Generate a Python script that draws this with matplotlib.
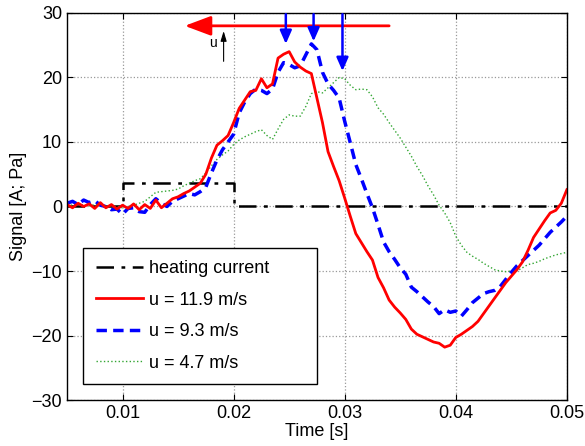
import numpy as np
import matplotlib
matplotlib.use('Agg')
import matplotlib.pyplot as plt

plt.rcParams['font.family'] = ['Liberation Sans', 'DejaVu Sans']

# time grid of the read-off samples [s]
t = np.round(np.linspace(0.005, 0.05, 91), 5)

# u = 11.9 m/s
sig_119 = [0.3, -0.2, 0.5, 0.0, 0.4, -0.3, 0.6, -0.2, 0.3, -0.4,
           0.2, -0.3, 0.4, -0.5, 0.3, -0.3, 1.0, -0.2, 0.5, 1.2,
           1.5, 2.0, 2.4, 3.0, 3.6, 5.0, 7.5, 9.5, 10.2, 11.0,
           13.0, 15.2, 16.5, 17.8, 18.0, 19.8, 18.4, 19.0, 23.0, 23.6,
           24.0, 22.4, 21.6, 21.0, 20.6, 16.8, 13.0, 8.5, 6.2, 4.0,
           1.3, -1.5, -4.2, -5.6, -7.0, -8.3, -11.0, -12.6, -14.5, -15.6,
           -16.5, -17.5, -19.0, -19.8, -20.2, -20.6, -21.0, -21.2, -21.8, -21.5,
           -20.3, -19.8, -19.2, -18.6, -17.8, -16.6, -15.4, -14.2, -13.0, -11.8,
           -10.8, -9.8, -8.6, -6.8, -4.8, -3.5, -2.2, -1.0, -0.6, 0.5,
           2.6]

# u = 9.3 m/s
sig_93 = [0.5, 0.8, 0.3, 1.0, 0.6, 0.9, 0.2, 0.0, -0.5, -0.4,
          -1.2, -0.3, -0.2, -0.8, -0.9, 0.3, 1.2, 0.5, 0.0, 0.8,
          1.2, 1.6, 2.0, 1.8, 2.3, 3.0, 5.2, 7.2, 8.8, 10.0,
          11.2, 14.5, 16.2, 17.5, 18.2, 18.0, 17.5, 18.2, 20.8, 22.3,
          22.0, 21.5, 21.8, 23.5, 25.2, 24.3, 20.8, 19.0, 18.0, 16.8,
          13.2, 9.9, 6.5, 4.3, 2.0, -0.2, -2.8, -5.5, -7.0, -8.2,
          -9.5, -10.5, -12.5, -13.2, -14.0, -14.8, -15.5, -16.6, -16.0, -16.4,
          -16.2, -17.0, -16.0, -14.9, -14.2, -13.5, -13.2, -13.0, -12.4, -11.3,
          -10.2, -9.2, -8.4, -7.6, -6.8, -6.0, -5.0, -4.0, -3.2, -2.4,
          -1.5]

# u = 4.7 m/s
sig_47 = [0.3, 0.2, 0.4, 0.2, 0.1, 0.3, 0.2, 0.0, 0.1, 0.0,
          -0.2, 0.0, 0.2, 0.5, 0.8, 1.5, 2.2, 2.3, 2.4, 2.5,
          2.7, 3.2, 3.6, 4.0, 4.3, 5.2, 6.3, 7.3, 8.0, 8.6,
          9.6, 10.3, 10.8, 11.2, 11.6, 11.9, 11.0, 10.4, 12.0, 13.5,
          14.2, 14.0, 14.0, 15.5, 17.5, 17.8, 17.6, 18.4, 19.2, 20.0,
          19.8, 18.8, 18.1, 18.2, 18.1, 17.0, 15.3, 14.3, 13.0, 11.8,
          10.6, 9.2, 7.8, 6.2, 4.8, 3.2, 1.8, 0.2, -1.0, -2.5,
          -4.6, -6.0, -7.1, -7.7, -8.2, -8.8, -9.3, -9.8, -10.0, -10.1,
          -10.0, -10.0, -9.5, -9.0, -8.8, -8.5, -8.1, -7.8, -7.5, -7.3,
          -7.1]

# heating current pulse
heat_t = [0.005, 0.01, 0.01, 0.02, 0.02, 0.05]
heat_v = [0, 0, 3.7, 3.7, 0, 0]

# peak markers (blue arrows)
peak_t = [0.0247, 0.0272, 0.0298]
peak_v = [25.2, 25.6, 21.0]

fig = plt.figure(figsize=(5.85, 4.46), dpi=100)
ax = fig.add_axes([0.1145, 0.103, 0.8545, 0.868])

ax.plot(heat_t, heat_v, color='black', lw=1.8, dashes=[7, 3, 1.5, 3],
        label='heating current')
ax.plot(t, sig_47, color=(0.2, 0.65, 0.2), lw=1.0, linestyle=':',
        label='u = 4.7 m/s')
ax.plot(t, sig_93, color='blue', lw=2.5, dashes=[3, 1.8],
        label='u = 9.3 m/s')
ax.plot(t, sig_119, color='red', lw=2.0, label='u = 11.9 m/s')

ax.set_xlim(0.005, 0.05)
ax.set_ylim(-30, 30)
ax.set_xticks([0.01, 0.02, 0.03, 0.04, 0.05])
ax.set_xticklabels(['0.01', '0.02', '0.03', '0.04', '0.05'])
ax.set_yticks([-30, -20, -10, 0, 10, 20, 30])
ax.tick_params(direction='in', top=True, right=True, labelsize=13, length=4)
ax.grid(True, linestyle=':', color='0.6', lw=0.9)
for s in ax.spines.values():
    s.set_linewidth(1.0)

ax.set_xlabel('Time [s]', fontsize=13, labelpad=1)
ax.set_ylabel('Signal [A; Pa]', fontsize=13, labelpad=3)

# propagation arrow and markers
ax.annotate('', xy=(0.0156, 28), xytext=(0.034, 28),
            arrowprops=dict(arrowstyle='-|>,head_length=0.8,head_width=0.3',
                            color='red', lw=2, mutation_scale=20,
                            shrinkA=0, shrinkB=0))
for pt, pv in zip(peak_t, peak_v):
    ax.annotate('', xy=(pt, pv), xytext=(pt, 29.8),
                arrowprops=dict(arrowstyle='-|>,head_length=0.5,head_width=0.22',
                                color='blue', lw=1.8, mutation_scale=16,
                                shrinkA=0, shrinkB=0), annotation_clip=False)
ax.annotate('', xy=(0.0191, 27.2), xytext=(0.0191, 22.5),
            arrowprops=dict(arrowstyle='-|>,head_length=0.5,head_width=0.15',
                            color='black', lw=0.8, mutation_scale=12,
                            shrinkA=0, shrinkB=0))
ax.text(0.0181, 25.3, 'u', fontsize=10, ha='center', va='center')

h, l = ax.get_legend_handles_labels()
order = [0, 3, 2, 1]
leg = ax.legend([h[i] for i in order], [l[i] for i in order],
                loc='lower left', bbox_to_anchor=(0.032, 0.041, 0.468, 0.354),
                mode='expand', borderaxespad=0, fontsize=13,
                handlelength=2.6, handletextpad=0.35, labelspacing=0.8,
                borderpad=0.7, fancybox=False, framealpha=1)
leg.get_frame().set_edgecolor('black')
leg.get_frame().set_linewidth(1.0)

fig.savefig('out.png', dpi=100)
